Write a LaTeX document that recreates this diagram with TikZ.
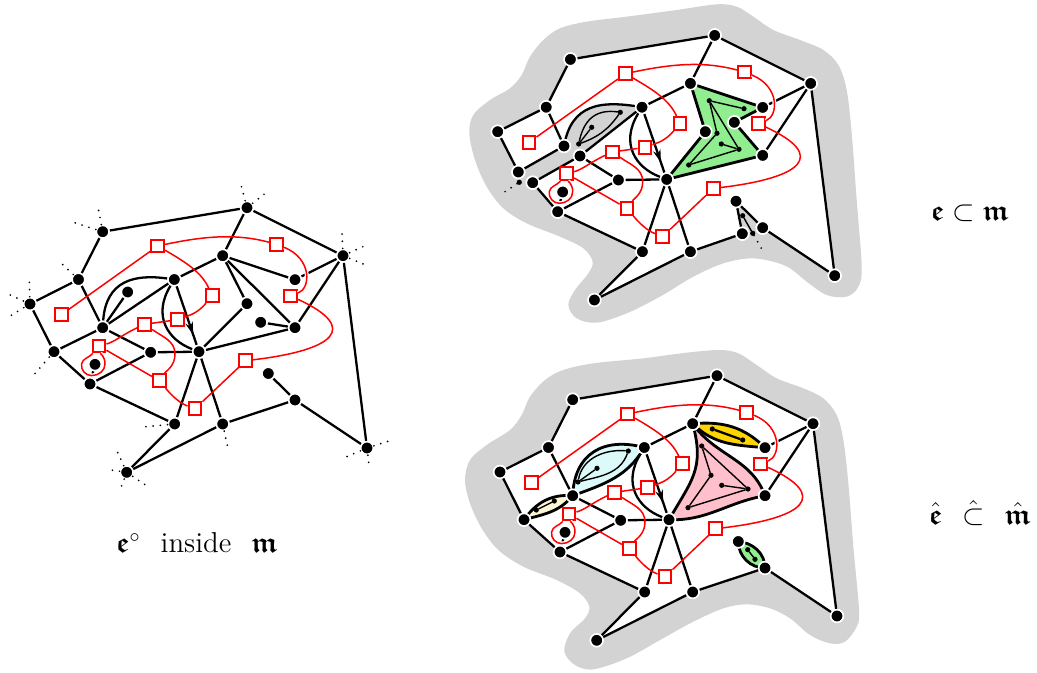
\documentclass[tikz,border=0pt]{standalone}
\usepackage{amsmath,amssymb}
\usetikzlibrary{backgrounds,decorations.markings,arrows.meta}
\definecolor{blobgray}{HTML}{D3D3D3}
\definecolor{redc}{HTML}{FF0000}
\definecolor{greenf}{HTML}{90EE90}
\definecolor{pinkf}{HTML}{FFC0CB}
\definecolor{goldf}{HTML}{FFD500}
\definecolor{bluef}{HTML}{DCFAFA}
\definecolor{yellowf}{HTML}{FBF6D4}
\newcommand{\fe}{\boldsymbol{\mathfrak{e}}}
\newcommand{\fm}{\boldsymbol{\mathfrak{m}}}
\tikzset{
  x=0.5pt,y=-0.5pt,
  vtx/.style={circle,fill=black,draw=white,line width=0.85pt,minimum size=6.4pt,inner sep=0pt},
  pvtx/.style={circle,fill=black,draw=none,minimum size=2.6pt,inner sep=0pt,outer sep=0pt},
  sq/.style={rectangle,draw=redc,fill=white,line width=1.05pt,minimum size=6.4pt,inner sep=0pt},
  edge/.style={line width=1.15pt,black},
  fat/.style={line width=1.4pt,black},
  thinedge/.style={line width=0.7pt,black},
  arrowedge/.style={edge,postaction={decorate},decoration={markings,mark=at position 0.83 with {\arrow{Stealth[length=6.5pt,width=3.8pt]}}}},
  rededge/.style={line width=0.75pt,redc},
  redcase/.style={rededge,preaction={draw=white,line width=2pt}},
  stub/.style={line width=0.95pt,black,line cap=round,dash pattern=on 0pt off 3.6pt},
  lab/.style={inner sep=0pt,font=\Large},
}
\newcommand{\Vx}[2]{\node[vtx] (#1) at (#2) {};}
\newcommand{\Px}[2]{\node[pvtx] (#1) at (#2) {};}
\newcommand{\Ed}[2]{\draw[edge] (#1) -- (#2);}
\newcommand{\Pe}[2]{\draw[thinedge] (#1) -- (#2);}
\newcommand{\commonverts}{%
  \Vx{a1}{102.7,231.7}\Vx{a2}{78.5,279.5}\Vx{a3}{30,304}
  \Vx{a6}{174.3,279.5}\Vx{a8}{150.7,352.3}\Vx{a9}{199,351.7}
  \Vx{a10}{95,364.3}\Vx{a11}{90,384}\Vx{a12}{174.7,424}\Vx{a13}{222.7,424}
  \Vx{a14}{126.7,472.3}\Vx{a15}{268.3,373.5}\Vx{a16}{295,400}\Vx{a17}{367,448}
  \Vx{a18}{247,207.7}\Vx{a19}{343,255.7}\Vx{a20}{222.7,255.7}\Vx{a21}{295,279.7}
  \Vx{a24}{295,327.7}}
\newcommand{\commonedges}{%
  \Ed{a1}{a18}\Ed{a1}{a2}\Ed{a2}{a3}\Ed{a2}{a4}\Ed{a6}{a20}
  \draw[arrowedge] (a6) -- (a9);
  \draw[edge] (a6) .. controls (152,316) and (168,340) .. (a9);
  \Ed{a8}{a9}\Ed{a8}{a11}\Ed{a11}{a10}\Ed{a11}{a12}\Ed{a12}{a9}\Ed{a13}{a9}
  \Ed{a12}{a14}\Ed{a14}{a13}\Ed{a16}{a17}\Ed{a17}{a19}\Ed{a19}{a18}\Ed{a18}{a20}
  \Ed{a21}{a19}\Ed{a24}{a19}}
\newcommand{\redgraph}{%
  \node[sq] (s1) at (61.3,314.7) {};
  \node[sq] (s2) at (157.7,246) {};
  \node[sq] (s3) at (276.7,244.3) {};
  \node[sq] (s4) at (212.3,295.7) {};
  \node[sq] (s5) at (290.7,296) {};
  \node[sq] (s6) at (177.3,319.7) {};
  \node[sq] (s7) at (144.7,324.3) {};
  \node[sq] (s8) at (99,346) {};
  \node[sq] (s9) at (159.3,380.7) {};
  \node[sq] (s10) at (195,408.7) {};
  \node[sq] (s11) at (245.7,360.7) {};
  \coordinate (r3) at (175,354);
  \coordinate (lpl) at (81.6,364);
  \coordinate (lpb) at (91.5,375.6);
  \coordinate (lpr) at (105,364);
  \draw[rededge] (s1) -- (s2);
  \draw[rededge] (s2) to[out=12,in=165,looseness=.95] (s3);
  \draw[redcase] (s3) .. controls (312,258.6) and (311,288) .. (s5);
  \draw[rededge] (s2) to[out=-30,in=115] (s4);
  \draw[rededge] (s4) to[out=-130,in=20] (s6);
  \draw[rededge] (s6) -- (s7);
  \draw[rededge] (s7) to[out=205,in=15] (s8);
  \draw[redcase] (s8) to[out=230,in=80] (lpl) to[out=-100,in=180] (lpb) to[out=0,in=-90] (lpr) to[out=90,in=-80] (s8);
  \draw[rededge] (s8) -- (s9);
  \draw[rededge] (s7) to[out=-35,in=90] (r3) to[out=-90,in=55] (s9);
  \draw[rededge] (s9) to[out=-50,in=160] (s10);
  \draw[rededge] (s10) -- (s11);
  \draw[rededge] (s11) .. controls (335,350) and (360,328) .. (s5);
}
\begin{document}
\begin{tikzpicture}
\useasboundingbox (0,0) rectangle (1037,673);
% ---------- left graph
\begin{scope}[name prefix=L-]
  \commonverts
  \Vx{a4}{102.7,327.7}\Vx{a5}{127.7,292}\Vx{a7}{54,351.7}
  \Vx{a22}{247,303.7}\Vx{a23}{260.7,322.3}
  \commonedges
  \Ed{a3}{a7}\Ed{a7}{a4}\Ed{a7}{a11}\Ed{a4}{a8}\Ed{a4}{a6}\Ed{a4}{a5}
  \draw[edge] (a4) to[out=86,in=172,looseness=1.25] (a6);
  \Ed{a20}{a21}\Ed{a20}{a22}\Ed{a20}{a24}\Ed{a22}{a9}\Ed{a24}{a9}\Ed{a24}{a23}
  \Ed{a13}{a16}\Ed{a16}{a15}
  \draw[stub] (a1) -- ++(-4.5,-23.5);
  \draw[stub] (a1) -- ++(-29.5,-9.5);
  \draw[stub] (a2) -- ++(-17.5,-16.5);
  \draw[stub] (a3) -- ++(-.7,-24);
  \draw[stub] (a3) -- ++(-22,-10);
  \draw[stub] (a3) -- ++(-20,12);
  \draw[stub] (a7) -- ++(-20,23);
  \draw[stub] (a18) -- ++(-6,-23);
  \draw[stub] (a18) -- ++(19,-15);
  \draw[stub] (a19) -- ++(-1,-24);
  \draw[stub] (a19) -- ++(22,-10);
  \draw[stub] (a19) -- ++(22,9);
  \draw[stub] (a12) -- ++(-32,3);
  \draw[stub] (a13) -- ++(5,23);
  \draw[stub] (a14) -- ++(-10,-22);
  \draw[stub] (a14) -- ++(-17,-2.5);
  \draw[stub] (a14) -- ++(20,13.5);
  \draw[stub] (a14) -- ++(-6,16);
  \draw[stub] (a17) -- ++(-21,9);
  \draw[stub] (a17) -- ++(22,-7);
  \draw[stub] (a17) -- ++(2,17);
  \redgraph
\end{scope}
% ---------- blobs
\begin{pgfonlayer}{background}
  \begin{scope}[shift={(460,0)},x=0.16667pt,y=-0.16667pt]
  \fill[blobgray] plot[smooth cycle,tension=.55] coordinates {(770,13)(830,20)(880,50)(940,90)(1020,120)(1090,150)(1135,195)(1160,270)(1175,400)(1190,600)(1205,800)(1195,860)(1160,890)(1100,885)(1040,845)(990,805)(940,785)(870,775)(790,790)(700,830)(600,890)(500,940)(410,968)(350,955)(325,915)(345,870)(385,820)(398,785)(370,745)(300,710)(200,670)(130,625)(80,560)(45,480)(28,400)(40,345)(90,300)(150,265)(185,225)(210,170)(250,120)(300,85)(380,65)(500,50)(650,30)};
  \end{scope}
  \begin{scope}[shift={(460,340)},x=0.16667pt,y=-0.16667pt]
  \fill[blobgray] plot[smooth cycle,tension=.55] coordinates {(780,30)(835,40)(890,75)(950,115)(1030,145)(1090,175)(1130,225)(1150,300)(1165,430)(1180,620)(1197,810)(1190,860)(1155,905)(1110,910)(1050,885)(990,835)(930,805)(860,793)(790,805)(700,845)(600,900)(500,955)(400,988)(345,975)(313,935)(330,880)(375,835)(388,800)(360,760)(290,720)(190,680)(115,630)(65,565)(30,490)(15,420)(30,360)(80,315)(150,270)(185,225)(210,170)(255,120)(310,90)(400,70)(550,55)(680,38)};
  \end{scope}
\end{pgfonlayer}
% ---------- top right
\begin{scope}[shift={(467.7,-172.3)},name prefix=T-]
  \commonverts
  \Vx{a4}{96.3,318.3}\Vx{a4b}{112.3,328.3}\Vx{a7a}{50.6,344.3}\Vx{a7b}{65,355}
  \Vx{a22}{237.6,304}\Vx{a23}{266.6,294.6}\Vx{x1}{274.6,406}
  \begin{pgfonlayer}{background}
    \fill[white] (a1.center) -- (a2.center) -- (a3.center) -- (a7a.center) -- (a4.center) to[out=80,in=170,looseness=1.25] (a6.center) -- (a4b.center) -- (a7b.center) -- (a11.center) -- (a12.center) -- (a14.center) -- (a13.center) -- (x1.center) -- (a15.center) -- (a16.center) -- (a17.center) -- (a19.center) -- (a18.center) -- cycle;
    \draw[edge] (a4.center) to[out=80,in=170,looseness=1.25] (a6.center);
    \draw[fat,fill=greenf,line join=round] (a20.center) -- (a21.center) -- (a23.center) -- (a24.center) -- (a9.center) -- (a22.center) -- cycle;
  \end{pgfonlayer}
  \commonedges
  \Ed{a3}{a7a}\Ed{a7a}{a4}\Ed{a7b}{a4b}\Ed{a7b}{a11}\Ed{a4b}{a8}\Ed{a4b}{a6}
  \Ed{a13}{x1}\Ed{x1}{a15}\Ed{a15}{a16}
  \Px{g1}{152.6,284.6}\Px{g2}{124,299.6}\Px{g3}{111,316.3}\Px{g4}{51.6,354.6}
  \coordinate (g5) at (32.3,367.3);
  \draw[thinedge] (g3) to[out=78,in=172,looseness=1.2] (g1);
  \draw[thinedge] (g1) to[out=235,in=20] (g3);
  \Pe{g3}{g2}
  \draw[stub] (g4) -- (g5);
  \Px{p1}{241.6,273}\Px{p2}{276.3,281}\Px{p3}{249.3,305.6}\Px{p4}{253.6,316.3}\Px{p5}{271.3,321.6}\Px{p6}{221,337.3}
  \Pe{p1}{p2}\Pe{p1}{p3}\Pe{p1}{p5}\Pe{p3}{p6}\Pe{p4}{p5}\Pe{p5}{p6}
  \Px{w1}{275,388}\Px{w2}{285,405.6}
  \coordinate (w3) at (295.8,424.3);
  \Pe{w1}{w2}
  \draw[stub] (w2) -- (w3);
  \redgraph
\end{scope}
% ---------- bottom right
\begin{scope}[shift={(470,168)},name prefix=B-]
  \commonverts
  \Vx{a4}{102.7,327.7}\Vx{a7}{54,351.7}
  \begin{pgfonlayer}{background}
    \fill[white] (a1.center) -- (a2.center) -- (a3.center) -- (a7.center) -- (a11.center) -- (a12.center) -- (a14.center) -- (a13.center) -- (a16.center) -- (a17.center) -- (a19.center) -- (a18.center) -- cycle;
    \draw[fat,fill=bluef] (a4.center) to[out=88,in=165,looseness=1.25] (a6.center) to[out=240,in=20] (a4.center) -- cycle;
    \draw[fat,fill=yellowf] (a7.center) to[out=55,in=175] (a4.center) to[out=230,in=15] (a7.center) -- cycle;
    \draw[fat,fill=goldf] (a20.center) to[out=5,in=135] (a21.center) to[out=175,in=-45] (a20.center) -- cycle;
    \draw[fat,fill=pinkf] (a20.center) to[out=-55,in=110] (a24.center) to[out=190,in=-2] (a9.center) to[out=60,in=-75,looseness=1.2] (a20.center) -- cycle;
    \draw[fat,fill=greenf] (a15.center) to[out=-90,in=180] (a16.center) to[out=90,in=-5] (a15.center) -- cycle;
  \end{pgfonlayer}
  \commonedges
  \Ed{a3}{a7}\Ed{a7}{a11}\Ed{a4}{a8}\Ed{a13}{a16}
  \Px{b1}{108,314}\Px{b2}{158.3,283}\Px{b3}{127,300.3}
  \draw[thinedge] (b1) to[out=80,in=175] (b2);
  \draw[thinedge] (b2) to[out=250,in=15] (b1);
  \Pe{b1}{b3}
  \Px{y1}{66.3,342}\Px{y2}{84.3,333}
  \Pe{y1}{y2}
  \Px{c1}{242.3,261}\Px{c2}{272.7,272}
  \draw[edge] (c1) -- (c2);
  \Px{q1}{231.7,278}\Px{q2}{241,307.3}\Px{q3}{251.7,317.3}\Px{q4}{278,321}\Px{q5}{218,339.7}
  \Pe{q1}{q2}\Pe{q1}{q4}\Pe{q2}{q5}\Pe{q3}{q4}\Pe{q4}{q5}
  \Px{h1}{277.7,381.7}\Px{h2}{285,391.3}
  \Pe{h1}{h2}
  \redgraph
\end{scope}
% ---------- labels
\node[lab] (t1) at (197,543) {$\fe^\circ$\hspace{10pt}inside\hspace{10pt}$\fm$};
\node[lab] (t2) at (970,213) {$\fe\subset\fm$};
\node[lab] (t3) at (980,513) {$\hat{\fe}\hspace{10pt}\hat{\subset}\hspace{10pt}\hat{\fm}$};
\end{tikzpicture}
\end{document}
